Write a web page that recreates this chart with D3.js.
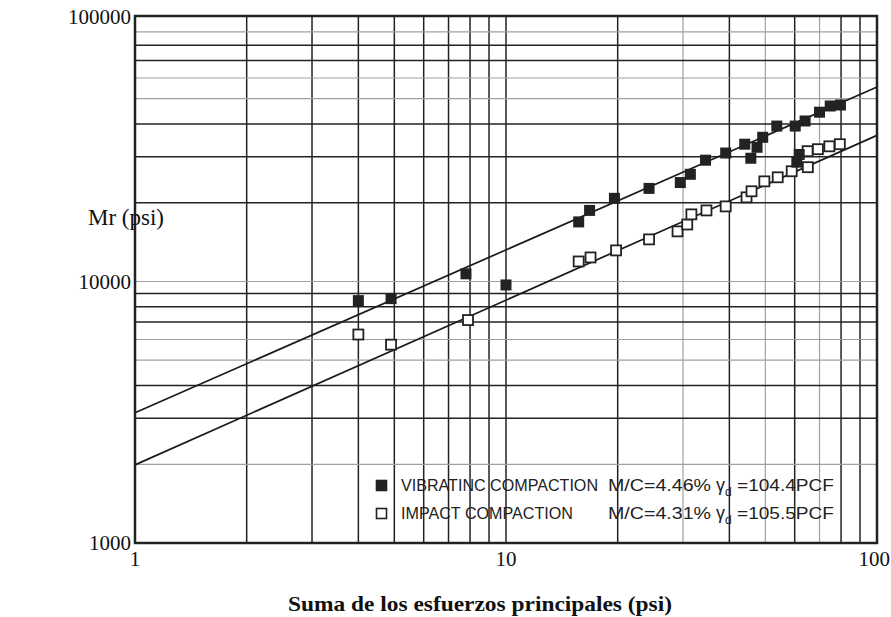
<!DOCTYPE html>
<html>
<head>
<meta charset="utf-8">
<script src="https://cdn.jsdelivr.net/npm/d3@7"></script>
<style>
	body { margin: 0; background: #fff; }
	svg { display: block; }
	.tick-label { font-family: "Liberation Serif", serif; font-size: 21px; fill: #111; }
	.legend text { font-family: "Liberation Sans", sans-serif; font-size: 16px; fill: #222; }
</style>
</head>
<body>
<div id="chart"></div>
<script>
// values (psi)
const vibX = [4, 4.9, 7.8, 10, 15.7, 16.8, 19.6, 24.3, 29.5, 31.4, 34.5, 39.1, 44, 45.7, 47.5, 49.2, 53.7, 60.2, 60.8, 61.7, 64, 70, 74.8, 79.7];
const vibY = [8450, 8600, 10700, 9700, 16900, 18700, 20800, 22700, 23900, 25700, 29100, 31000, 33500, 29600, 32600, 35600, 39300, 39300, 28600, 30600, 41100, 44400, 46900, 47300];

const impX = [4, 4.9, 7.9, 15.7, 16.9, 19.8, 24.3, 29, 30.8, 31.6, 34.7, 39.1, 44.5, 45.9, 49.7, 54, 58.9, 65.1, 65, 69.3, 74.4, 79.4];
const impY = [6270, 5735, 7120, 11930, 12360, 13150, 14490, 15550, 16520, 18060, 18700, 19370, 20980, 22130, 24150, 25030, 26400, 27360, 31500, 32060, 32880, 33500];

// fitted lines, end points at x = 1 and x = 100
const vibFitX = [1, 100];
const vibFitY = [3150, 55400];
const impFitX = [1, 100];
const impFitY = [1990, 36200];

const xTicks = [1, 10, 100];
const yTicks = [1000, 10000, 100000];
const xGrid = [2, 3, 4, 5, 6, 7, 8, 9, 10, 20, 30, 40, 50, 60, 70, 80, 90];
const yGrid = [2000, 3000, 4000, 5000, 6000, 7000, 8000, 9000, 10000, 20000, 30000, 40000, 50000, 60000, 70000, 80000, 90000];
const xGridLight = [30, 50, 70];
const yGridLight = [2000, 5000, 6000, 10000, 50000, 60000, 90000];

const yLabel = 'Mr (psi)';
const xLabel = 'Suma de los esfuerzos principales (psi)';

const W = 891, H = 617;
const plotL = 135, plotR = 877, plotT = 16, plotB = 543;

const svg = d3.select('#chart').append('svg')
	.attr('width', W)
	.attr('height', H);

const x = d3.scaleLog().domain([1, 100]).range([plotL, plotR]);
const y = d3.scaleLog().domain([1000, 100000]).range([plotB, 20]);

// grid
const grid = svg.append('g').attr('class', 'grid');
grid.selectAll('line.v')
	.data(xGrid)
	.join('line')
	.attr('class', 'v')
	.attr('x1', d => x(d)).attr('x2', d => x(d))
	.attr('y1', plotT).attr('y2', plotB)
	.attr('stroke', d => xGridLight.includes(d) ? '#a0a0a0' : '#222')
	.attr('stroke-width', d => xGridLight.includes(d) ? 1.2 : 1.5);
grid.selectAll('line.h')
	.data(yGrid)
	.join('line')
	.attr('class', 'h')
	.attr('x1', plotL).attr('x2', plotR)
	.attr('y1', d => y(d)).attr('y2', d => y(d))
	.attr('stroke', d => yGridLight.includes(d) ? '#a0a0a0' : '#222')
	.attr('stroke-width', d => yGridLight.includes(d) ? 1.2 : 1.5);

// fit lines
const line = d3.line()
	.x(d => x(d[0]))
	.y(d => y(d[1]));
const fits = [d3.zip(vibFitX, vibFitY), d3.zip(impFitX, impFitY)];
svg.append('g').selectAll('path')
	.data(fits)
	.join('path')
	.attr('d', line)
	.attr('fill', 'none')
	.attr('stroke', '#1a1a1a')
	.attr('stroke-width', 1.7);

// points
const sq = 11;
svg.append('g').selectAll('rect')
	.data(d3.zip(impX, impY))
	.join('rect')
	.attr('x', d => x(d[0]) - sq/2 + 0.5)
	.attr('y', d => y(d[1]) - sq/2 + 0.5)
	.attr('width', sq - 1).attr('height', sq - 1)
	.attr('fill', '#fff')
	.attr('stroke', '#222')
	.attr('stroke-width', 1.8);
svg.append('g').selectAll('rect')
	.data(d3.zip(vibX, vibY))
	.join('rect')
	.attr('x', d => x(d[0]) - sq/2)
	.attr('y', d => y(d[1]) - sq/2)
	.attr('width', sq).attr('height', sq)
	.attr('fill', '#222');

// frame
svg.append('rect')
	.attr('x', plotL).attr('y', plotT)
	.attr('width', plotR - plotL).attr('height', plotB - plotT)
	.attr('fill', 'none')
	.attr('stroke', '#222')
	.attr('stroke-width', 2.5);

// tick labels
svg.append('g').selectAll('text')
	.data(yTicks)
	.join('text')
	.attr('class', 'tick-label')
	.attr('x', plotL - 4)
	.attr('y', d => d === 100000 ? plotT + 1 : y(d))
	.attr('dy', '0.35em')
	.attr('text-anchor', 'end')
	.text(d => d);
svg.append('g').selectAll('text')
	.data(xTicks)
	.join('text')
	.attr('class', 'tick-label')
	.attr('x', d => d === 100 ? W - 1 : x(d))
	.attr('y', plotB + 23)
	.attr('text-anchor', d => d === 100 ? 'end' : 'middle')
	.text(d => d);

svg.append('text')
	.attr('x', 88).attr('y', 225)
	.attr('font-family', '"Liberation Serif", serif')
	.attr('font-size', 23)
	.attr('fill', '#111')
	.text(yLabel);

svg.append('text')
	.attr('x', 480).attr('y', 611)
	.attr('text-anchor', 'middle')
	.attr('font-family', '"Liberation Serif", serif')
	.attr('font-weight', 'bold')
	.attr('font-size', 21)
	.attr('textLength', 384)
	.attr('lengthAdjust', 'spacingAndGlyphs')
	.attr('fill', '#111')
	.text(xLabel);

// legend
const legend = svg.append('g').attr('class', 'legend');
const rows = [
	{ name: 'VIBRATINC COMPACTION', nameW: 197, mc: 'M/C=4.46%', gd: '=104.4PCF', filled: true, y: 491 },
	{ name: 'IMPACT COMPACTION', nameW: 172, mc: 'M/C=4.31%', gd: '=105.5PCF', filled: false, y: 519 },
];
rows.forEach(r => {
	legend.append('rect')
		.attr('x', 376.5).attr('y', r.y - 10.5)
		.attr('width', 10).attr('height', 10)
		.attr('fill', r.filled ? '#222' : '#fff')
		.attr('stroke', '#222')
		.attr('stroke-width', 1.6);
	legend.append('text').attr('x', 401).attr('y', r.y)
		.attr('textLength', r.nameW).attr('lengthAdjust', 'spacingAndGlyphs')
		.text(r.name);
	legend.append('text').attr('x', 608).attr('y', r.y)
		.attr('textLength', 103).attr('lengthAdjust', 'spacingAndGlyphs')
		.text(r.mc);
	const g = legend.append('text').attr('x', 716).attr('y', r.y);
	g.append('tspan').attr('font-size', 18).text('γ');
	g.append('tspan').attr('font-size', 12).attr('dy', 5).text('d');
	legend.append('text').attr('x', 737).attr('y', r.y)
		.attr('textLength', 97).attr('lengthAdjust', 'spacingAndGlyphs')
		.text(r.gd);
});
</script>
</body>
</html>
